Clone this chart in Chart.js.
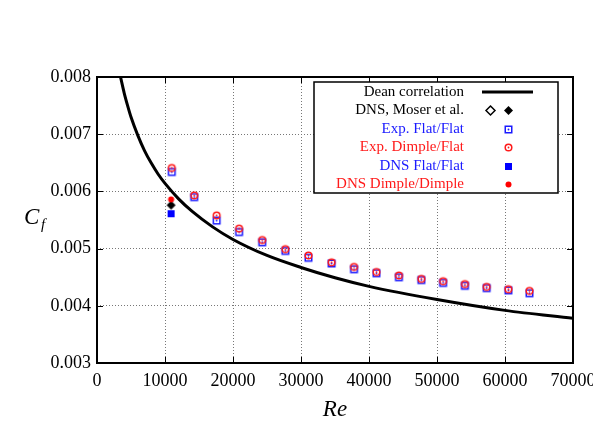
<!DOCTYPE html>
<html>
<head>
<meta charset="utf-8">
<script src="https://cdn.jsdelivr.net/npm/chart.js@4.4.0/dist/chart.umd.min.js"></script>
<style>
  body { margin: 0; background: #fff; }
  canvas { display: block; }
</style>
</head>
<body>
<canvas id="cf-chart" width="593" height="422"></canvas>
<script>
// experimental stations (bulk Reynolds number)
const reExp = [11000, 14300, 17600, 20900, 24300, 27700, 31100, 34500, 37800,
               41100, 44400, 47700, 50900, 54100, 57300, 60500, 63600];
const cfExpFlat = [0.00634, 0.00590, 0.00549, 0.00529, 0.00511, 0.00496, 0.00484, 0.00474, 0.00464,
                   0.00457, 0.00450, 0.00445, 0.00440, 0.00435, 0.00431, 0.00427, 0.00422];
const cfExpDimple = [0.00641, 0.00593, 0.00558, 0.00535, 0.00515, 0.00499, 0.00488, 0.00476, 0.00468,
                     0.00459, 0.00453, 0.00447, 0.00443, 0.00438, 0.00433, 0.00429, 0.00426];

// DNS runs
const reDns = [10900];
const cfMoser = [0.00576];
const cfDnsFlat = [0.00561];
const cfDnsDimple = [0.00586];

// Dean correlation
const reDean = [3460, 4000, 4500, 5000, 6000, 7000, 8000, 9000, 10000, 12000, 14000, 17000,
                20000, 25000, 30000, 35000, 40000, 50000, 60000, 70000];
const cfDean = [0.00800, 0.00772, 0.00750, 0.00730, 0.00698, 0.00671, 0.00649, 0.00630, 0.00614,
                0.00587, 0.00565, 0.00538, 0.00516, 0.00488, 0.00467, 0.00449, 0.00434, 0.00411,
                0.00392, 0.00378];

const xTicks = [0, 10000, 20000, 30000, 40000, 50000, 60000, 70000];
const yTicks = [0.003, 0.004, 0.005, 0.006, 0.007, 0.008];

const serif = "'Liberation Serif', 'DejaVu Serif', serif";
const BLUE = '#1a1aff';
const RED = '#ff1a1a';

function pairs(xs, ys) {
  return xs.map((x, i) => ({ x: x, y: ys[i] }));
}

// small canvas markers, gnuplot style
function marker(shape, color, filled, dot) {
  const c = document.createElement('canvas');
  c.width = 13; c.height = 13;
  const g = c.getContext('2d');
  g.strokeStyle = color;
  g.fillStyle = color;
  g.lineWidth = 1.5;
  g.beginPath();
  if (shape === 'square') {
    const s = filled ? 7 : 6.5;
    g.rect(6.5 - s / 2, 6.5 - s / 2, s, s);
  } else if (shape === 'circle') {
    g.arc(6.5, 6.5, filled ? 3 : 3.3, 0, Math.PI * 2);
  } else if (shape === 'diamond') {
    g.moveTo(6.5, 2); g.lineTo(11, 6.5); g.lineTo(6.5, 11); g.lineTo(2, 6.5); g.closePath();
  }
  if (filled) g.fill(); else g.stroke();
  if (dot) {
    g.beginPath();
    g.arc(6.5, 6.5, 0.9, 0, Math.PI * 2);
    g.fill();
  }
  return c;
}

const mkExpFlat = marker('square', BLUE, false, true);
const mkExpDimple = marker('circle', RED, false, true);
const mkDnsFlat = marker('square', '#0000ff', true, false);
const mkDnsDimple = marker('circle', '#ff0000', true, false);
const mkMoser = marker('diamond', '#000', true, false);
const mkMoserOpen = marker('diamond', '#000', false, false);

// frame, inward ticks, axis titles and the boxed key
const framePlugin = {
  id: 'frame',
  beforeDraw(chart) {
    const ctx = chart.ctx;
    ctx.save();
    ctx.fillStyle = '#fff';
    ctx.fillRect(0, 0, chart.width, chart.height);
    ctx.restore();
  },
  afterDraw(chart) {
    const { ctx, chartArea: a, scales } = chart;
    ctx.save();
    ctx.strokeStyle = '#000';
    ctx.lineWidth = 1;
    ctx.beginPath();
    xTicks.forEach(v => {
      const px = Math.round(scales.x.getPixelForValue(v)) + 0.5;
      ctx.moveTo(px, a.bottom); ctx.lineTo(px, a.bottom - 6);
      ctx.moveTo(px, a.top); ctx.lineTo(px, a.top + 6);
    });
    yTicks.forEach(v => {
      const py = Math.round(scales.y.getPixelForValue(v)) + 0.5;
      ctx.moveTo(a.left, py); ctx.lineTo(a.left + 6, py);
      ctx.moveTo(a.right, py); ctx.lineTo(a.right - 6, py);
    });
    ctx.stroke();
    ctx.lineWidth = 2;
    ctx.strokeRect(a.left, a.top, a.right - a.left, a.bottom - a.top);

    // axis titles
    ctx.fillStyle = '#000';
    ctx.textBaseline = 'alphabetic';
    ctx.textAlign = 'center';
    ctx.font = 'italic 23px ' + serif;
    ctx.fillText('Re', (a.left + a.right) / 2, 416);
    ctx.textAlign = 'left';
    ctx.fillText('C', 24, 224);
    ctx.font = 'italic 15px ' + serif;
    ctx.fillText('f', 41, 229);

    // key
    const box = { x: 314, y: 82, w: 244, h: 111 };
    ctx.fillStyle = '#fff';
    ctx.fillRect(box.x, box.y, box.w, box.h);
    ctx.lineWidth = 1.5;
    ctx.strokeStyle = '#000';
    ctx.strokeRect(box.x, box.y, box.w, box.h);
    ctx.font = '15px ' + serif;
    ctx.textAlign = 'right';
    ctx.textBaseline = 'middle';
    const rows = chart.data.datasets.slice().sort((p, q) => p.keyRow - q.keyRow);
    rows.forEach((ds, i) => {
      const y = 92 + i * 18.5;
      ctx.fillStyle = ds.keyColor;
      ctx.fillText(ds.label, 464, y);
      if (ds.showLine) {
        ctx.strokeStyle = ds.borderColor;
        ctx.lineWidth = 3;
        ctx.beginPath();
        ctx.moveTo(482, y); ctx.lineTo(533, y);
        ctx.stroke();
      } else {
        const marks = ds.keyMarkers || [ds.pointStyle];
        const xs = marks.length === 2 ? [490, 508] : [508];
        marks.forEach((m, k) => ctx.drawImage(m, Math.round(xs[k] - m.width / 2), Math.round(y - m.height / 2)));
      }
    });
    ctx.restore();
  }
};

new Chart(document.getElementById('cf-chart'), {
  type: 'scatter',
  data: {
    datasets: [{
      label: 'Dean correlation',
      data: pairs(reDean, cfDean),
      showLine: true,
      borderColor: '#000',
      borderWidth: 3,
      pointRadius: 0,
      cubicInterpolationMode: 'monotone',
      keyColor: '#000',
      keyRow: 0,
      order: 6
    }, {
      label: 'DNS, Moser et al.',
      data: pairs(reDns, cfMoser),
      pointStyle: mkMoser,
      keyMarkers: [mkMoserOpen, mkMoser],
      keyColor: '#000',
      keyRow: 1,
      order: 2
    }, {
      label: 'Exp. Flat/Flat',
      data: pairs(reExp, cfExpFlat),
      pointStyle: mkExpFlat,
      keyColor: BLUE,
      keyRow: 2,
      order: 5
    }, {
      label: 'Exp. Dimple/Flat',
      data: pairs(reExp, cfExpDimple),
      pointStyle: mkExpDimple,
      keyColor: RED,
      keyRow: 3,
      order: 4
    }, {
      label: 'DNS Flat/Flat',
      data: pairs(reDns, cfDnsFlat),
      pointStyle: mkDnsFlat,
      keyColor: BLUE,
      keyRow: 4,
      order: 3
    }, {
      label: 'DNS Dimple/Dimple',
      data: pairs(reDns, cfDnsDimple),
      pointStyle: mkDnsDimple,
      keyColor: RED,
      keyRow: 5,
      order: 1
    }]
  },
  options: {
    responsive: false,
    animation: false,
    layout: { padding: { left: 0, top: 77, right: 20, bottom: 0 } },
    plugins: {
      legend: { display: false },
      tooltip: { enabled: false }
    },
    scales: {
      x: {
        type: 'linear',
        min: 0,
        max: 70000,
        afterBuildTicks: s => { s.ticks = xTicks.map(v => ({ value: v })); },
        afterFit: s => { s.height = 59; s.paddingLeft = 0; s.paddingRight = 0; },
        grid: { color: '#777', lineWidth: 1, drawTicks: false },
        border: { display: false, dash: [1, 2] },
        ticks: {
          padding: 7,
          maxRotation: 0,
          color: '#000',
          font: { family: serif, size: 18 },
          callback: v => String(v)
        }
      },
      y: {
        type: 'linear',
        min: 0.003,
        max: 0.008,
        afterBuildTicks: s => { s.ticks = yTicks.map(v => ({ value: v })); },
        afterFit: s => { s.width = 97; s.paddingTop = 0; s.paddingBottom = 0; },
        grid: { color: '#777', lineWidth: 1, drawTicks: false },
        border: { display: false, dash: [1, 2] },
        ticks: {
          padding: 6,
          color: '#000',
          font: { family: serif, size: 18 },
          callback: v => v.toFixed(3)
        }
      }
    }
  },
  plugins: [framePlugin]
});
</script>
</body>
</html>
